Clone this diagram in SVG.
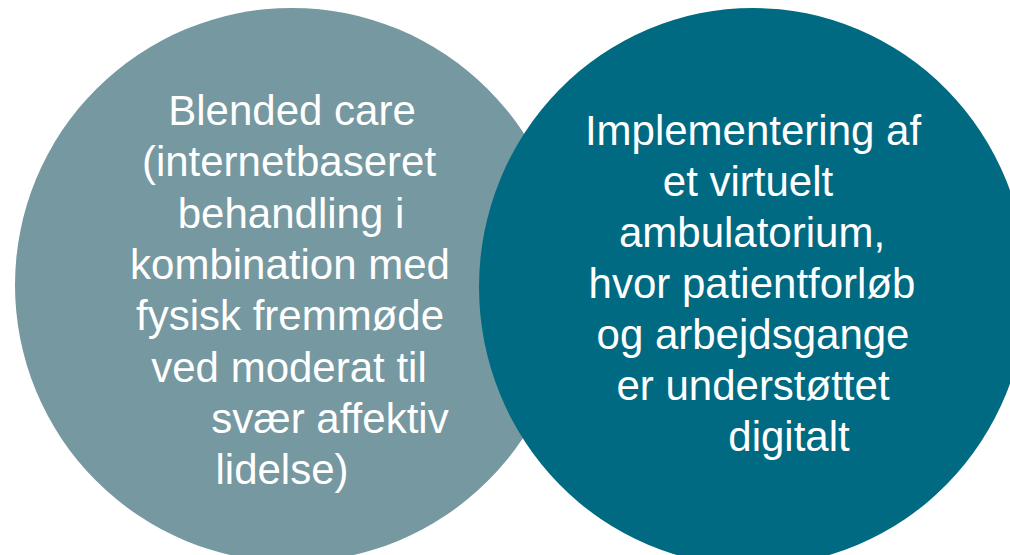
<svg xmlns="http://www.w3.org/2000/svg" width="1010" height="555" viewBox="0 0 1010 555">
<style>
.t{font-family:"Liberation Sans",Arial,sans-serif;font-size:42px;fill:#ffffff;text-anchor:middle}
</style>
<rect width="1010" height="555" fill="#ffffff"/>
<g id="left">
<circle cx="292" cy="285" r="277" fill="#7698a0"/>
<text class="t" x="292" y="125">Blended care</text>
<text class="t" x="289" y="176">(internetbaseret</text>
<text class="t" x="291" y="228">behandling i</text>
<text class="t" x="290" y="279">kombination med</text>
<text class="t" x="290" y="330">fysisk fremmøde</text>
<text class="t" x="289" y="382">ved moderat til</text>
<text class="t" x="330" y="433">svær affektiv</text>
<text class="t" x="282" y="484">lidelse)</text>
</g>
<g id="right">
<ellipse cx="753" cy="287" rx="274" ry="279" fill="#006a82"/>
<text class="t" x="753" y="145">Implementering af</text>
<text class="t" x="748" y="196">et virtuelt</text>
<text class="t" x="752" y="247">ambulatorium,</text>
<text class="t" x="752" y="298">hvor patientforløb</text>
<text class="t" x="753" y="349">og arbejdsgange</text>
<text class="t" x="753" y="400">er understøttet</text>
<text class="t" x="789" y="451">digitalt</text>
</g>
</svg>
